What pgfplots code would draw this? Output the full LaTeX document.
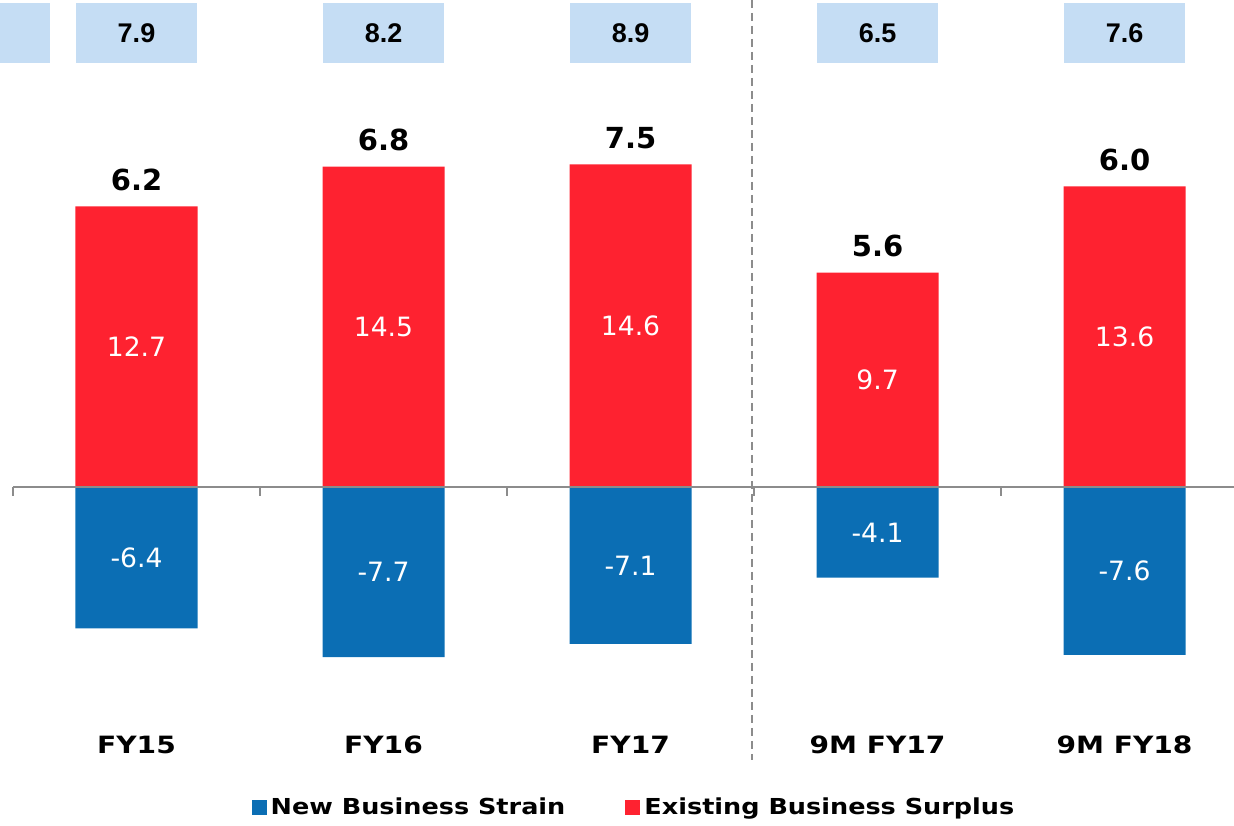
\documentclass[border=0pt]{standalone}
\usepackage{pgfplots}
\pgfplotsset{compat=1.18}
\usepackage{pgfplotstable}
\usepackage{fontspec}
\setmainfont{DejaVu Sans}
\newfontfamily\arialfont{Liberation Sans}
\newfontfamily\widefont{DejaVu Sans}[FakeStretch=1.18]
\newfontfamily\legendfont{DejaVu Sans}[FakeStretch=1.16]
\definecolor{strainblue}{RGB}{11,110,180}
\definecolor{surplusred}{RGB}{254,34,48}
\definecolor{boxblue}{RGB}{197,221,244}
\definecolor{axisgray}{RGB}{140,140,140}

% strain = new business strain, surplus = existing business surplus,
% net = bold label over the bar, top = value in the light blue box
\pgfplotstableread{
x strain surplus net top
0 -6.4 12.7 6.2 7.9
1 -7.7 14.5 6.8 8.2
2 -7.1 14.6 7.5 8.9
3 -4.1 9.7 5.6 6.5
4 -7.6 13.6 6.0 7.6
}\capdata

\begin{document}
\begin{tikzpicture}
\begin{axis}[
    scale only axis,
    width=617pt, height=413pt,
    xmin=-0.5526, xmax=4.443,
    ymin=-15.34, ymax=22.04,
    clip=false,
    axis line style={draw=none},
    tick style={draw=none},
    ytick=\empty,
    xtick={0,1,2,3,4},
    xticklabels={FY15,FY16,FY17,9M FY17,9M FY18},
    xticklabel style={font=\widefont\fontsize{11.9}{14}\selectfont\bfseries, anchor=center, yshift=40.5pt},
    /pgf/number format/fixed,
    /pgf/number format/fixed zerofill,
    /pgf/number format/precision=1,
    /pgf/number format/assume math mode=true,
    legend columns=2,
    legend style={at={(rel axis cs:0.5146,0.0218)}, anchor=center, draw=none, fill=none,
        font=\legendfont\fontsize{11}{13}\selectfont\bfseries,
        /tikz/every even column/.append style={column sep=28pt}},
]
\addplot[ybar, bar width=0.494, bar shift=0pt, fill=strainblue, draw=none,
    legend image code/.code={\fill[strainblue] (0pt,-3.75pt) rectangle (7.5pt,3.75pt);},
    nodes near coords,
    visualization depends on=rawy \as \rawy,
    every node near coord/.append style={font=\fontsize{13.3}{16}\selectfont, text=white,
        anchor=center, shift={(axis direction cs:0,-\rawy/2)}},
] table[x=x, y=strain] {\capdata};
\addlegendentry{New Business Strain}

\addplot[ybar, bar width=0.494, bar shift=0pt, fill=surplusred, draw=none,
    legend image code/.code={\fill[surplusred] (0pt,-3.75pt) rectangle (7.5pt,3.75pt);},
    nodes near coords,
    visualization depends on=rawy \as \rawy,
    every node near coord/.append style={font=\fontsize{13.3}{16}\selectfont, text=white,
        anchor=center, shift={(axis direction cs:0,-\rawy/2)}},
] table[x=x, y=surplus] {\capdata};
\addlegendentry{Existing Business Surplus}

% net value over each bar
\addplot[draw=none, mark=none, forget plot,
    nodes near coords, point meta=\thisrow{net},
    every node near coord/.append style={font=\fontsize{14.5}{17}\selectfont\bfseries,
        text=black, anchor=south, inner sep=0pt, yshift=7.5pt},
] table[x=x, y=surplus] {\capdata};

% light blue boxes along the top
\fill[boxblue] (axis cs:-0.5526,21.90) rectangle (axis cs:-0.350,19.19);
\addplot[draw=none, mark=none, forget plot,
    nodes near coords, point meta=\thisrow{top},
    every node near coord/.append style={font=\arialfont\fontsize{13.5}{16}\selectfont\bfseries,
        text=black, fill=boxblue, anchor=center, inner sep=0pt,
        minimum width=60.5pt, minimum height=30pt},
] table[x=x, y expr=20.54] {\capdata};

% zero line with category ticks
\draw[axisgray, line width=0.8pt] (axis cs:-0.5,0) -- (axis cs:4.443,0);
\pgfplotsinvokeforeach{-0.5,0.5,1.5,2.5,3.5}{
    \draw[axisgray, line width=0.8pt] (axis cs:#1,0) -- ++(0pt,-4.5pt);
}
% divider between full years and nine months
\draw[axisgray, line width=1pt, dash pattern=on 4pt off 2.5pt]
    (axis cs:2.492,22.04) -- (axis cs:2.492,-12.35);
\end{axis}
\pgfresetboundingbox
\path[use as bounding box] (current axis.south west) rectangle (current axis.north east);
\end{tikzpicture}
\end{document}
